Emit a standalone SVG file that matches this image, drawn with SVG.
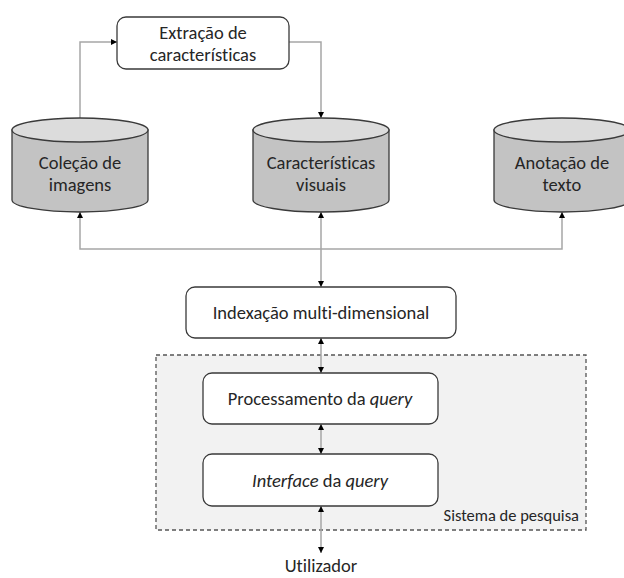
<svg xmlns="http://www.w3.org/2000/svg" width="624" height="578" viewBox="0 0 624 578">
  <style>
    text { font-family: Carlito, Lato, "Liberation Sans", sans-serif; font-size: 18.5px; fill: #262626; text-anchor: middle; font-variant-ligatures: none; }
    .box { fill: #ffffff; stroke: #3a3a3a; stroke-width: 1.3; }
    .cyl-body { fill: #c3c3c3; stroke: #3a3a3a; stroke-width: 1.3; }
    .cyl-top { fill: #dcdcdc; stroke: #3a3a3a; stroke-width: 1.3; }
    .link { fill: none; stroke: #a6a6a6; stroke-width: 1.5; }
    .group { fill: #f2f2f2; stroke: #555555; stroke-width: 1.3; stroke-dasharray: 4 3; }
    .small { font-size: 16.5px; text-anchor: end; }
  </style>
  <defs>
    <marker id="arrow" viewBox="0 0 6 6" refX="6" refY="3" markerWidth="6" markerHeight="6" markerUnits="userSpaceOnUse" orient="auto-start-reverse">
      <path d="M0,0 L6,3 L0,6 Z" fill="#000000"/>
    </marker>
  </defs>

  <!-- search system boundary -->
  <g id="sistema-pesquisa">
    <rect class="group" x="156" y="355" width="430" height="175"/>
    <text class="small" x="579" y="521">Sistema de pesquisa</text>
  </g>

  <!-- connectors -->
  <g id="connectors">
    <path class="link" d="M80,118 V42 H117" marker-end="url(#arrow)"/>
    <path class="link" d="M289,42 H321 V118" marker-end="url(#arrow)"/>
    <path class="link" d="M80,212 V249 H562 V212" marker-start="url(#arrow)" marker-end="url(#arrow)"/>
    <path class="link" d="M321,212 V287" marker-start="url(#arrow)" marker-end="url(#arrow)"/>
    <path class="link" d="M321,338 V373" marker-start="url(#arrow)" marker-end="url(#arrow)"/>
    <path class="link" d="M321,424 V454" marker-start="url(#arrow)" marker-end="url(#arrow)"/>
    <path class="link" d="M321,506 V553" marker-start="url(#arrow)" marker-end="url(#arrow)"/>
  </g>

  <g id="extracao">
    <rect class="box" x="117" y="17" width="172" height="52" rx="9"/>
    <text x="203" y="39">Extração de</text>
    <text x="203" y="61">características</text>
  </g>

  <g id="colecao-imagens">
    <path class="cyl-body" d="M12,130 V200 A68,12 0 0 0 148,200 V130 Z"/>
    <ellipse class="cyl-top" cx="80" cy="130" rx="68" ry="12"/>
    <text x="80" y="169">Coleção de</text>
    <text x="80" y="191">imagens</text>
  </g>

  <g id="caracteristicas-visuais">
    <path class="cyl-body" d="M253,130 V200 A68,12 0 0 0 389,200 V130 Z"/>
    <ellipse class="cyl-top" cx="321" cy="130" rx="68" ry="12"/>
    <text x="321" y="169">Características</text>
    <text x="321" y="191">visuais</text>
  </g>

  <g id="anotacao-texto">
    <path class="cyl-body" d="M494,130 V200 A68,12 0 0 0 630,200 V130 Z"/>
    <ellipse class="cyl-top" cx="562" cy="130" rx="68" ry="12"/>
    <text x="562" y="169">Anotação de</text>
    <text x="562" y="191">texto</text>
  </g>

  <g id="indexacao">
    <rect class="box" x="186" y="287" width="270" height="51" rx="9"/>
    <text x="321" y="319">Indexação multi-dimensional</text>
  </g>

  <g id="processamento">
    <rect class="box" x="203" y="373" width="235" height="51" rx="9"/>
    <text x="320" y="405">Processamento da <tspan font-style="italic">query</tspan></text>
  </g>

  <g id="interface">
    <rect class="box" x="203" y="454" width="235" height="52" rx="9"/>
    <text x="320" y="487"><tspan font-style="italic">Interface</tspan> da <tspan font-style="italic">query</tspan></text>
  </g>

  <g id="utilizador">
    <text x="321" y="572">Utilizador</text>
  </g>
</svg>
